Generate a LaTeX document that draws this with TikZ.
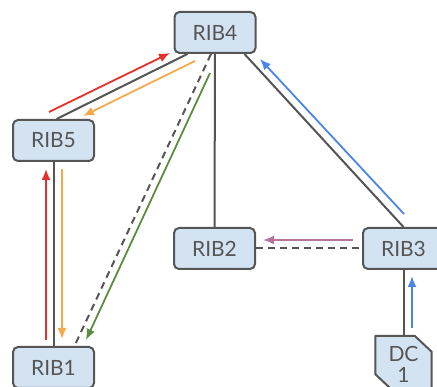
\documentclass[tikz,border=0pt]{standalone}
\usepackage{fontspec}
\setmainfont{Lato}
\usetikzlibrary{arrows.meta}

\definecolor{ribfill}{HTML}{D4E3F2}
\definecolor{ribline}{HTML}{555555}
\definecolor{ribtext}{HTML}{555555}
\definecolor{flowred}{HTML}{E8302A}
\definecolor{floworange}{HTML}{F5A94B}
\definecolor{flowgreen}{HTML}{5E8C3E}
\definecolor{flowblue}{HTML}{4A86E8}
\definecolor{flowpink}{HTML}{B7739A}

\begin{document}
\begin{tikzpicture}[
    x=1pt, y=-1pt,
    rib/.style={rectangle, draw=ribline, line width=2pt, fill=ribfill, rounded corners=5pt, minimum width=81pt, minimum height=41pt, text=ribtext, font=\fontsize{21}{22}\selectfont},
    link/.style={draw=ribline, line width=2pt},
    flow/.style={line width=1.8pt, -{Latex[length=11pt, width=9pt]}}
]
\useasboundingbox (0,0) rectangle (437,387);

\node[rib] (rib4) at (215,32.5) {RIB4};
\node[rib] (rib5) at (53.5,140.5) {RIB5};
\node[rib] (rib1) at (53.5,367.5) {RIB1};
\node[rib] (rib2) at (214.5,248.5) {RIB2};
\node[rib] (rib3) at (403.5,248.5) {RIB3};
\node[minimum width=56pt, minimum height=54pt, inner sep=0pt] (dc1) at (403.5,363) {};

% dc shape
\filldraw[fill=ribfill, draw=ribline, line width=2pt, line join=round]
    (dc1.north west) -- ([xshift=-17pt]dc1.north east) -- ([yshift=-16pt]dc1.north east)
    -- (dc1.south east) -- ([xshift=17pt]dc1.south west) -- ([yshift=16pt]dc1.south west) -- cycle;
\node[align=center, text=ribtext, font=\fontsize{21}{21}\selectfont] at ([yshift=-1pt]dc1) {DC\\1};

% links
\draw[link] ([xshift=14pt]rib4.south west) -- ([xshift=3pt]rib5.north);
\draw[link] (rib5) -- (rib1);
\draw[link, dash pattern=on 7pt off 5pt] ([xshift=-4pt]rib4.south) -- ([xshift=21pt]rib1.north);
\draw[link] (rib4) -- (rib2);
\draw[link] ([xshift=-12pt]rib4.south east) -- (rib3.north);
\draw[link, dash pattern=on 7pt off 5pt] (rib2) -- (rib3);
\draw[link] (rib3) -- (dc1);

% flows
\coordinate (r5a) at (49,112);   \coordinate (r4a) at (170,53);
\coordinate (r4b) at (195,61);   \coordinate (r5b) at (83,116);
\coordinate (r1a) at (46,340);   \coordinate (r5c) at (46,169);
\coordinate (r5d) at (62,169);   \coordinate (r1b) at (62,339);
\coordinate (r4c) at (210,73);   \coordinate (r1c) at (86,340);
\coordinate (r3a) at (404,214);  \coordinate (r4d) at (260,59);
\coordinate (r3b) at (353,240);  \coordinate (r2a) at (263,240);
\coordinate (dca) at (412,328);  \coordinate (r3c) at (412,276);

\draw[flow, flowred] (r5a) -- (r4a);
\draw[flow, floworange] (r4b) -- (r5b);
\draw[flow, flowred] (r1a) -- (r5c);
\draw[flow, floworange] (r5d) -- (r1b);
\draw[flow, flowgreen] (r4c) -- (r1c);
\draw[flow, flowblue] (r3a) -- (r4d);
\draw[flow, flowpink] (r3b) -- (r2a);
\draw[flow, flowblue] (dca) -- (r3c);
\end{tikzpicture}
\end{document}
